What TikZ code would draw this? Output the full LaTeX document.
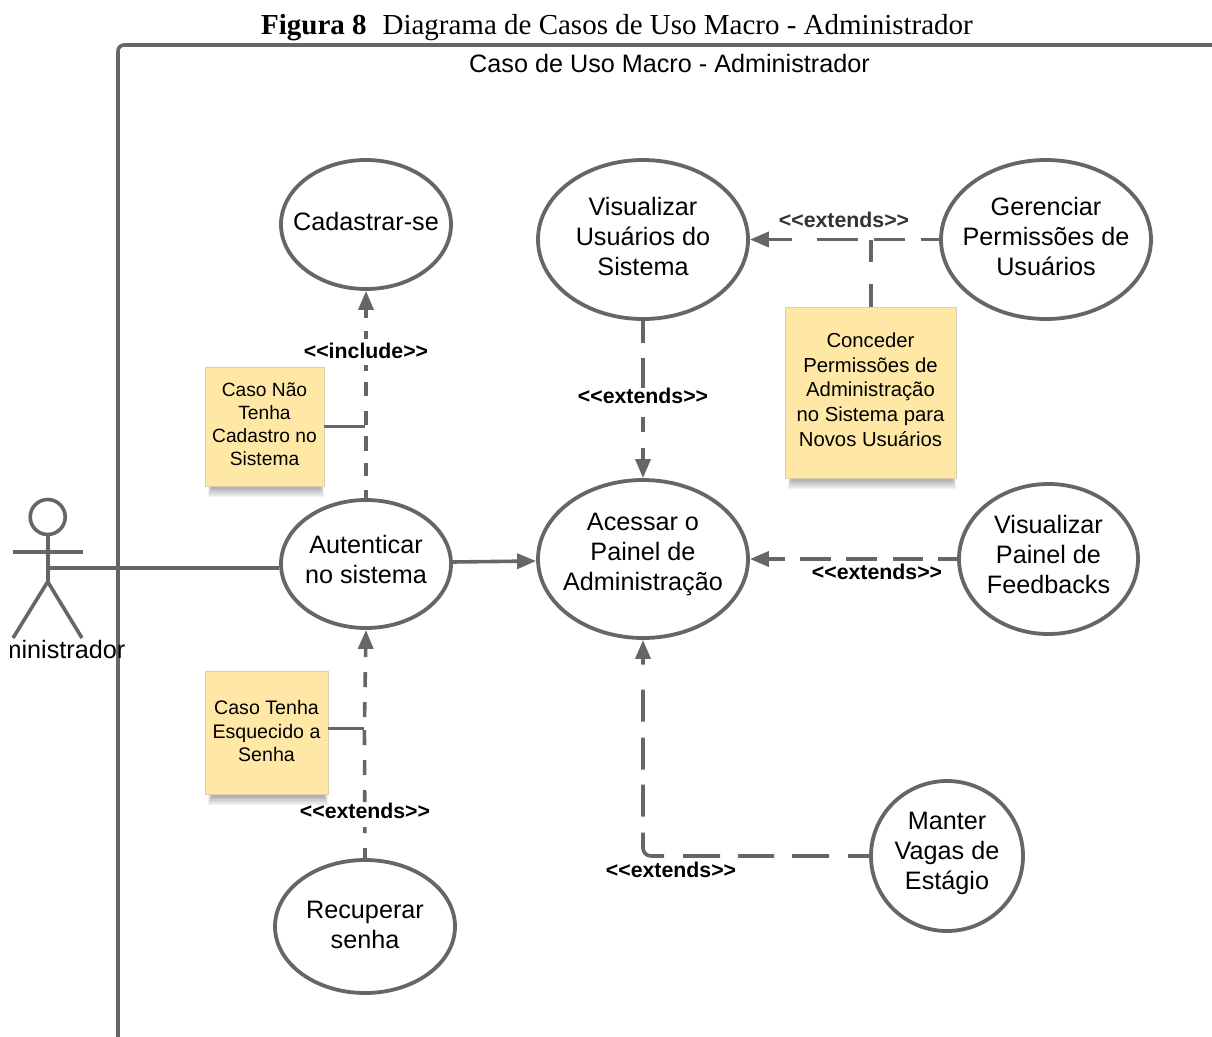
\documentclass[tikz,border=0pt]{standalone}
\usepackage{fontspec}
\setmainfont{Liberation Serif}
\newfontfamily\arialf{Liberation Sans}
\usetikzlibrary{shapes.geometric,arrows.meta}
\definecolor{lineg}{HTML}{666666}
\definecolor{notey}{HTML}{FFE8A6}
\definecolor{noteb}{HTML}{D8D0B0}
\newcommand{\softshadow}[4]{%
  \foreach \i in {0,1,2,3,4,5,6,7}{%
    \fill[black,opacity=0.05] ({#1+3+0.6*\i},{#4-6}) rectangle ({#2-0.6*\i},{#4+11-1.4*\i});
  }%
}
\newcommand{\rtext}[2]{\raisebox{#1}[\height][\depth]{\begin{tabular}{@{}c@{}}#2\end{tabular}}}
\tikzset{
  x=1pt,y=-1pt,
  uc/.style={ellipse,draw=lineg,line width=3.8pt,fill=white,inner sep=-20pt,align=center,
    font=\arialf\fontsize{25.2}{30}\selectfont,text=black},
  note/.style={rectangle,draw=noteb,line width=0.8pt,fill=notey,inner sep=0pt,align=center,text=black},
  lab/.style={font=\arialf\bfseries\fontsize{21.3}{25}\selectfont,text=black,inner sep=0pt},
  solidl/.style={draw=lineg,line width=3.6pt},
  dashl/.style={draw=lineg,line width=3.6pt},
  headp/.style={-{Triangle[length=19pt,width=15pt]}},
}
\begin{document}
\begin{tikzpicture}
\useasboundingbox (0,0) rectangle (1212,1036);
\clip (0,0) rectangle (1212,1036);

% frame
\coordinate (fa) at (118,1040);
\coordinate (fb) at (118,45);
\coordinate (fc) at (1216,45);
\draw[solidl,rounded corners=6pt] (fa) -- (fb) -- (fc);

% caption and title
\node[anchor=base,inner sep=0pt,font=\fontsize{29}{32}\selectfont] (cap) at (617,34)
  {\textbf{Figura 8}\hspace{0.55em}Diagrama de Casos de Uso Macro - Administrador};
\node[anchor=base,inner sep=0pt,font=\arialf\fontsize{25.2}{30}\selectfont] (ttl) at (669.5,72)
  {Caso de Uso Macro - Administrador};

% note shadows
\softshadow{205}{324}{367}{486}
\softshadow{205}{328}{671}{794}
\softshadow{785}{956}{307}{478}

% use cases
\node[uc,minimum width=170pt,minimum height=129pt] (cad) at (366,224.5) {\rtext{0.5pt}{Cadastrar-se}};
\node[uc,minimum width=210pt,minimum height=159pt] (vis) at (643,239.5) {\rtext{0.5pt}{Visualizar\\Usuários do\\Sistema}};
\node[uc,minimum width=210pt,minimum height=159pt] (ger) at (1046,239.5) {\rtext{0.5pt}{Gerenciar\\Permissões de\\Usuários}};
\node[uc,minimum width=210pt,minimum height=158pt] (ace) at (643,559) {\rtext{5pt}{Acessar o\\Painel de\\Administração}};
\node[uc,minimum width=179pt,minimum height=150pt] (fee) at (1048.5,559) {\rtext{2pt}{Visualizar\\Painel de\\Feedbacks}};
\node[uc,minimum width=170pt,minimum height=128pt] (aut) at (366,564) {\rtext{2pt}{Autenticar\\no sistema}};
\node[uc,minimum width=180pt,minimum height=133pt] (rec) at (365,926.5) {\rtext{-0.5pt}{Recuperar\\senha}};
\node[uc,minimum width=152pt,minimum height=150pt] (man) at (947,856) {\rtext{3pt}{Manter\\Vagas de\\Estágio}};

% notes
\node[note,font=\arialf\fontsize{19.2}{22.7}\selectfont,minimum width=119pt,minimum height=119pt] (n1) at (264.5,426.5) {\rtext{0pt}{Caso Não\\Tenha\\Cadastro no\\Sistema}};
\node[note,font=\arialf\fontsize{19.6}{23.5}\selectfont,minimum width=123pt,minimum height=123pt] (n2) at (266.5,732.5) {\rtext{-1pt}{Caso Tenha\\Esquecido a\\Senha}};
\node[note,font=\arialf\fontsize{20.3}{24.7}\selectfont,minimum width=171pt,minimum height=171pt] (n3) at (870.5,392.5) {\rtext{0.5pt}{Conceder\\Permissões de\\Administração\\no Sistema para\\Novos Usuários}};

% actor
\node[circle,draw=lineg,line width=3.6pt,minimum size=35pt,inner sep=0pt] (head) at (47.7,517) {};
\coordinate (hip) at (47.7,581.7);
\coordinate (arml) at (12.7,551.7);
\coordinate (armr) at (83,551.7);
\coordinate (footl) at (13,638);
\coordinate (footr) at (82,638);
\coordinate (torso) at (47.7,568);
\draw[solidl] (head.south) -- (hip);
\draw[solidl] (arml) -- (armr);
\draw[solidl] (footl) -- (hip) -- (footr);
\begin{scope}
\clip (10.8,620) rectangle (200,680);
\node[anchor=base,inner sep=0pt,font=\arialf\fontsize{25.2}{30}\selectfont] (actl) at (47.5,658.5) {Administrador};
\end{scope}

% connectors
\draw[solidl] (torso) -- (aut.west |- torso);
\coordinate (ae1) at (452,562);
\coordinate (ae2) at (ace.west |- 0,561);
\draw[solidl,headp] (ae1) -- (ae2);

\coordinate (j1) at (365.3,426);
\coordinate (j2) at (364.4,728);
\coordinate (j3) at (871,239.5);

\draw[dashl,headp,dash pattern=on 8pt off 14pt on 13pt off 12pt on 15pt off 11pt on 14pt off 15pt on 14pt off 11pt on 6pt off 26pt on 8pt off 13pt on 300pt]
  (aut.north) -- (cad.south);
\draw[dashl,headp,dash pattern=on 10pt off 15pt on 6pt off 25pt on 12pt off 15pt on 15pt off 15pt on 15pt off 13pt on 15pt off 15pt on 15pt off 15pt on 300pt]
  (rec.north) -- (j2) -- (aut.south);
\draw[dashl,headp,dash pattern=on 22pt off 15pt on 30pt off 29pt on 15pt off 16pt on 300pt]
  (vis.south) -- (ace.north);
\draw[dashl,headp,dash pattern=on 18pt off 16pt on 31pt off 16pt on 41pt off 25pt on 300pt]
  (ger.west) -- (vis.east);
\draw[dashl,headp,dash pattern=on 19pt off 15pt on 30pt off 16pt on 31pt off 15pt on 31pt off 15pt on 300pt]
  (fee.west) -- (ace.east);
\coordinate (bend) at (643,856);
\draw[dashl,headp,rounded corners=8pt,dash pattern=on 21pt off 19pt on 37pt off 18pt on 36pt off 18pt on 37pt off 19pt on 41pt off 16pt on 32pt off 15pt on 32pt off 16pt on 32pt off 25pt on 300pt]
  (man.west) -- (bend) -- (ace.south);

% note stubs
\draw[solidl,line width=3pt] (n1.east |- j1) -- (j1);
\draw[solidl,line width=3pt] (n2.east |- j2) -- (j2);
\draw[dashl,dash pattern=on 23pt off 22pt on 30pt] (n3.north -| j3) -- (j3);

% labels
\node[lab] (l1) at (366,351) {<<include>>};
\node[lab] (l2) at (643,396) {<<extends>>};
\node[lab,text=black!80] (l3) at (844,220) {<<extends>>};
\node[lab] (l4) at (877,572) {<<extends>>};
\node[lab] (l5) at (365,811) {<<extends>>};
\node[lab] (l6) at (671,870) {<<extends>>};
\end{tikzpicture}
\end{document}
